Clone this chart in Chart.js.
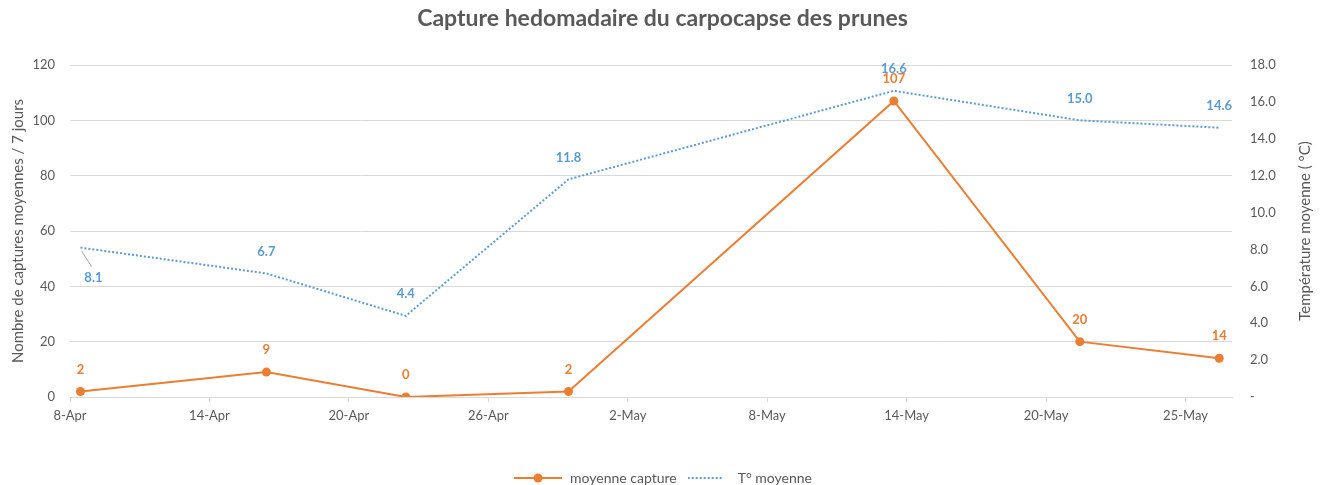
<!DOCTYPE html>
<html lang="fr">
<head>
<meta charset="utf-8">
<title>Capture hedomadaire du carpocapse des prunes</title>
<script src="https://cdn.jsdelivr.net/npm/chart.js@4.4.1/dist/chart.umd.min.js"></script>
<style>
    html, body { margin: 0; padding: 0; background: #ffffff; }
    #cadre { position: relative; width: 1325px; height: 485px; }
</style>
</head>
<body>
<div id="cadre"><canvas id="graphique" width="1325" height="485"></canvas></div>
<script>
// --- Données ---
// jours depuis le 8 avril (position des relevés sur l'axe des dates)
const jours = [0.45, 8.45, 14.45, 21.45, 35.45, 43.45, 49.45];
const captures = [2, 9, 0, 2, 107, 20, 14];
const temperatures = [8.1, 6.7, 4.4, 11.8, 16.6, 15.0, 14.6];
const joursTicks = [0, 6, 12, 18, 24, 30, 36, 42, 48];
const etiquettesX = ['8-Apr', '14-Apr', '20-Apr', '26-Apr', '2-May', '8-May', '14-May', '20-May', '25-May'];

const TITRE = 'Capture hedomadaire du carpocapse des prunes';
const TITRE_Y = 'Nombre de captures moyennes / 7 jours';
const TITRE_Y1 = 'Température moyenne ( °C)';

const ORANGE = '#ED7D31';
const BLEU = '#5B9BD5';
const GRIS = '#595959';
const GRILLE = '#d9d9d9';

Chart.defaults.font.family = 'Lato, "Open Sans", sans-serif';
Chart.defaults.color = GRIS;

// --- Marqueurs de légende ---
function marqueurCapture() {
    const c = document.createElement('canvas');
    c.width = 48; c.height = 10;
    const g = c.getContext('2d');
    g.strokeStyle = ORANGE; g.lineWidth = 2;
    g.beginPath(); g.moveTo(0, 5); g.lineTo(48, 5); g.stroke();
    g.fillStyle = ORANGE;
    g.beginPath(); g.arc(24, 5, 4.5, 0, Math.PI * 2); g.fill();
    return c;
}
function marqueurTemp() {
    const c = document.createElement('canvas');
    c.width = 36; c.height = 4;
    const g = c.getContext('2d');
    g.fillStyle = BLEU;
    for (let x = 0; x < 36; x += 4) g.fillRect(x, 1, 2, 2);
    return c;
}
const marqueurs = [marqueurCapture(), marqueurTemp()];

// --- Étiquettes de données ---
const etiquettes = {
    id: 'etiquettes',
    afterLayout(chart) {
        // légende un peu plus bas, comme dans l'original
        chart.legend.top += 10;
        chart.legend.bottom += 10;
    },
    afterDatasetsDraw(chart) {
        const ctx = chart.ctx;
        ctx.save();
        ctx.font = 'bold 13px Lato, "Open Sans", sans-serif';
        ctx.textAlign = 'center';
        ctx.textBaseline = 'middle';
        chart.data.datasets.forEach((ds, i) => {
            const meta = chart.getDatasetMeta(i);
            meta.data.forEach((pt, j) => {
                const v = ds.data[j].y;
                const texte = i === 0 ? String(Math.round(v)) : v.toFixed(1);
                let x = pt.x, y = pt.y - 22;
                if (i === 1 && j === 0) {
                    // étiquette déplacée sous le point avec trait de rappel
                    ctx.strokeStyle = '#a6a6a6';
                    ctx.lineWidth = 1;
                    ctx.beginPath();
                    ctx.moveTo(pt.x + 1, pt.y + 3);
                    ctx.lineTo(pt.x + 11, pt.y + 19);
                    ctx.stroke();
                    x = pt.x + 13; y = pt.y + 30;
                }
                ctx.fillStyle = ds.borderColor;
                ctx.fillText(texte, x, y);
            });
        });
        ctx.restore();
    },
    afterDraw(chart) {
        // titre de l'axe de droite, lu de bas en haut
        const s = chart.scales.y1;
        const ctx = chart.ctx;
        ctx.save();
        ctx.translate(s.right - 20, (s.top + s.bottom) / 2);
        ctx.rotate(-Math.PI / 2);
        ctx.font = '15px Lato, "Open Sans", sans-serif';
        ctx.fillStyle = GRIS;
        ctx.textAlign = 'center';
        ctx.textBaseline = 'middle';
        ctx.fillText(TITRE_Y1, 0, 0);
        ctx.restore();
    }
};

const ctx = document.getElementById('graphique').getContext('2d');
const graphique = new Chart(ctx, {
    type: 'line',
    data: {
        datasets: [
            {
                label: 'moyenne capture',
                data: jours.map((j, i) => ({ x: j, y: captures[i] })),
                borderColor: ORANGE,
                backgroundColor: ORANGE,
                borderWidth: 2,
                pointRadius: 4.5,
                pointHoverRadius: 4.5,
                pointBackgroundColor: ORANGE,
                pointBorderWidth: 0,
                yAxisID: 'y',
                tension: 0
            },
            {
                label: 'T° moyenne',
                data: jours.map((j, i) => ({ x: j, y: temperatures[i] })),
                borderColor: BLEU,
                backgroundColor: BLEU,
                borderWidth: 2,
                borderDash: [2, 2],
                pointRadius: 0,
                yAxisID: 'y1',
                tension: 0
            }
        ]
    },
    options: {
        responsive: false,
        animation: false,
        devicePixelRatio: 1,
        layout: { padding: { left: 0, right: 0, top: 0, bottom: 0 } },
        plugins: {
            title: {
                display: true,
                text: TITRE,
                color: GRIS,
                font: { size: 23, weight: 'bold' },
                padding: { top: 5, bottom: 32.4 }
            },
            legend: {
                position: 'bottom',
                labels: {
                    usePointStyle: true,
                    pointStyleWidth: 50,
                    boxHeight: 10,
                    padding: 4,
                    color: GRIS,
                    font: { size: 14 },
                    generateLabels(chart) {
                        const items = Chart.defaults.plugins.legend.labels.generateLabels(chart);
                        items.forEach((it, i) => { it.pointStyle = marqueurs[i]; });
                        return items;
                    }
                }
            },
            tooltip: { enabled: false }
        },
        scales: {
            x: {
                type: 'linear',
                min: 0,
                max: 50,
                afterBuildTicks: (s) => { s.ticks = joursTicks.map(v => ({ value: v })); },
                afterFit: (s) => { s.height = 60; },
                ticks: {
                    autoSkip: false,
                    maxRotation: 0,
                    padding: 6,
                    font: { size: 13 },
                    callback: (v, i) => etiquettesX[i]
                },
                grid: { drawOnChartArea: false, drawTicks: true, tickLength: 5, color: GRILLE },
                border: { color: GRILLE }
            },
            y: {
                position: 'left',
                min: 0,
                max: 120,
                afterFit: (s) => { s.width = 70; },
                ticks: { stepSize: 20, padding: 15, font: { size: 13 } },
                grid: { color: GRILLE, drawTicks: false },
                border: { display: false },
                title: {
                    display: true,
                    text: TITRE_Y,
                    color: GRIS,
                    font: { size: 15 },
                    padding: { top: 9, bottom: 0 }
                }
            },
            y1: {
                position: 'right',
                min: 0,
                max: 18,
                afterFit: (s) => { s.width = 93; },
                ticks: {
                    stepSize: 2,
                    padding: 18,
                    font: { size: 13 },
                    callback: (v) => v === 0 ? '-' : v.toFixed(1)
                },
                grid: { drawOnChartArea: false, drawTicks: false },
                border: { display: false }
            }
        }
    },
    plugins: [etiquettes]
});
</script>
</body>
</html>
